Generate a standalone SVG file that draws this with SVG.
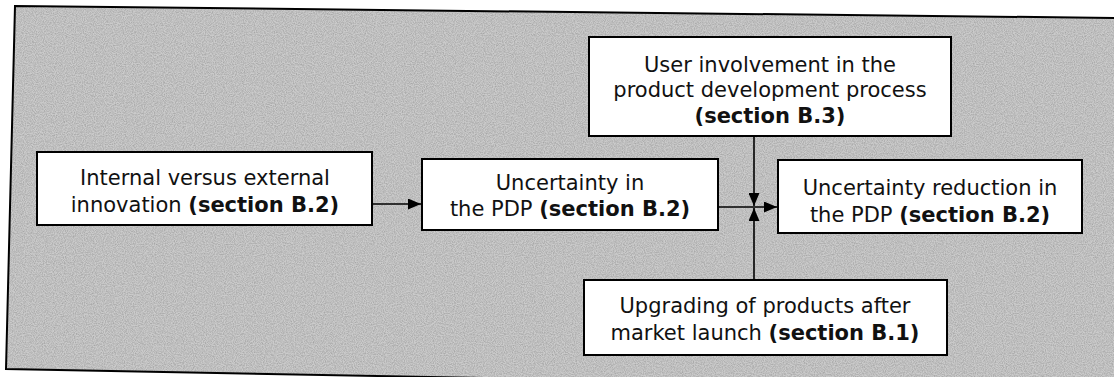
<svg xmlns="http://www.w3.org/2000/svg" width="1114" height="377" viewBox="0 0 1114 377">
  <style>
    .box { fill: #ffffff; stroke: #000000; stroke-width: 2; }
    .lbl { font-family: "DejaVu Sans", Verdana, sans-serif; font-size: 21px; fill: #111111; text-anchor: middle; }
    .b { font-weight: bold; }
    .wire { stroke: #000000; stroke-width: 1.6; fill: none; }
  </style>
  <defs>
    <marker id="arrow" viewBox="0 0 13 11" refX="13" refY="5.5" markerWidth="13" markerHeight="11" markerUnits="userSpaceOnUse" orient="auto">
      <path d="M0,0 L13,5.5 L0,11 Z" fill="#000000"/>
    </marker>
    <filter id="grain" x="0" y="0" width="100%" height="100%">
      <feTurbulence type="fractalNoise" baseFrequency="0.9" numOctaves="2" seed="3" result="n"/>
      <feColorMatrix in="n" type="matrix" values="0 0 0 0 0  0 0 0 0 0  0 0 0 0 0  0 0 0 -1.6 1.1" result="d"/>
      <feComposite in="d" in2="SourceGraphic" operator="in"/>
    </filter>
  </defs>

  <rect width="1114" height="377" fill="#ffffff"/>

  <!-- outer frame with halftone grey fill -->
  <g id="frame">
    <polygon points="15,6 1120,18 1120,390 6,369" fill="#cbcbcb"/>
    <polygon points="15,6 1120,18 1120,390 6,369" fill="#cbcbcb" filter="url(#grain)" opacity="0.2"/>
    <polygon points="15,6 1120,18 1120,390 6,369" fill="none" stroke="#000000" stroke-width="2"/>
  </g>

  <!-- connectors -->
  <g id="connectors">
    <line class="wire" x1="372" y1="204" x2="421" y2="204" marker-end="url(#arrow)"/>
    <line class="wire" x1="718" y1="207" x2="777" y2="207" marker-end="url(#arrow)"/>
    <line class="wire" x1="754" y1="137" x2="754" y2="206" marker-end="url(#arrow)"/>
    <line class="wire" x1="754" y1="280" x2="754" y2="208" marker-end="url(#arrow)"/>
  </g>

  <g id="internal-external">
    <rect class="box" x="37" y="152" width="335" height="73"/>
    <text class="lbl" x="205" y="185">Internal versus external</text>
    <text class="lbl" x="205" y="212">innovation <tspan class="b">(section B.2)</tspan></text>
  </g>

  <g id="uncertainty">
    <rect class="box" x="422" y="159" width="296" height="71"/>
    <text class="lbl" x="570" y="190">Uncertainty in</text>
    <text class="lbl" x="570" y="216">the PDP <tspan class="b">(section B.2)</tspan></text>
  </g>

  <g id="user-involvement">
    <rect class="box" x="589" y="37" width="362" height="99"/>
    <text class="lbl" x="770" y="72">User involvement in the</text>
    <text class="lbl" x="770" y="97">product development process</text>
    <text class="lbl b" x="770" y="123">(section B.3)</text>
  </g>

  <g id="uncertainty-reduction">
    <rect class="box" x="778" y="160" width="304" height="73"/>
    <text class="lbl" x="930" y="195">Uncertainty reduction in</text>
    <text class="lbl" x="930" y="222">the PDP <tspan class="b">(section B.2)</tspan></text>
  </g>

  <g id="upgrading">
    <rect class="box" x="584" y="280" width="363" height="75"/>
    <text class="lbl" x="765" y="313">Upgrading of products after</text>
    <text class="lbl" x="765" y="340">market launch <tspan class="b">(section B.1)</tspan></text>
  </g>
</svg>
